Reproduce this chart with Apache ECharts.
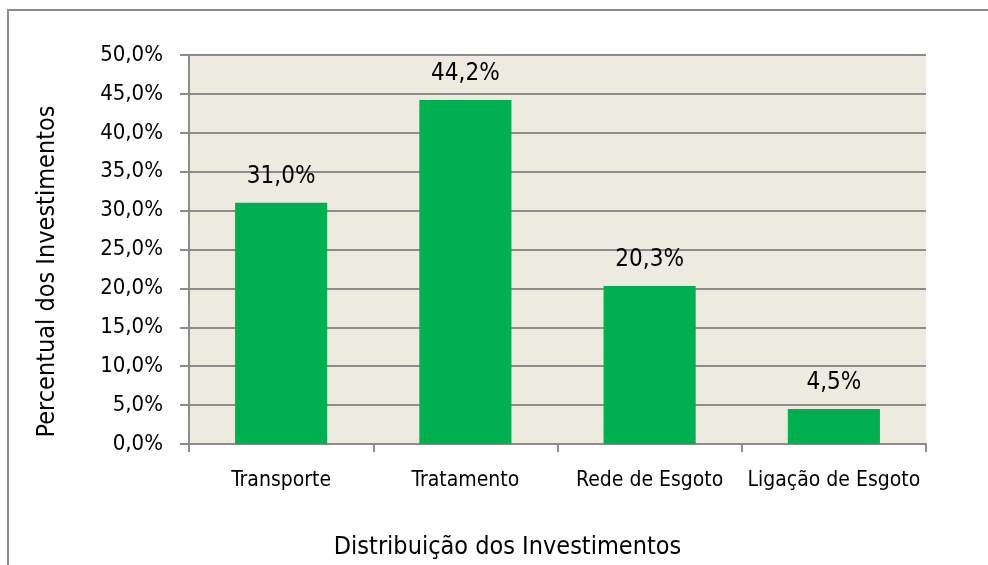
<!DOCTYPE html>
<html>
<head>
<meta charset="utf-8">
<script src="https://cdn.jsdelivr.net/npm/echarts@6/dist/echarts.min.js"></script>
<style>
  html, body { margin: 0; padding: 0; background: #fff; }
  #chart { width: 988px; height: 565px; }
</style>
</head>
<body>
<div id="chart"></div>
<script>
// dados do gráfico
const categorias = ['Transporte', 'Tratamento', 'Rede de Esgoto', 'Ligação de Esgoto']
const percentuais = [31.0, 44.2, 20.3, 4.5]

const fonte = "'Liberation Sans Narrow', 'DejaVu Sans Condensed', 'Roboto', sans-serif"
const cinza = '#8c8c8c'
const fmt = v => v.toFixed(1).replace('.', ',') + '%'

const chart = echarts.init(document.getElementById('chart'))
chart.setOption({
  animation: false,
  textStyle: { fontFamily: fonte, color: '#000' },
  // moldura externa
  graphic: [{
    type: 'rect',
    shape: { x: 8, y: 10, width: 1100, height: 700 },
    style: { fill: 'none', stroke: cinza, lineWidth: 2 },
    silent: true
  }],
  grid: {
    left: 189, right: 62, top: 55, bottom: 118,
    show: true, backgroundColor: '#edeae0', borderWidth: 0
  },
  xAxis: {
    type: 'category',
    data: categorias,
    name: 'Distribuição dos Investimentos',
    nameLocation: 'middle',
    nameGap: 91,
    nameTextStyle: { fontSize: 25, color: '#000', fontFamily: fonte, padding: [0, 100, 0, 0] },
    axisLine: { lineStyle: { color: cinza, width: 2 } },
    axisTick: { show: true, length: 8, lineStyle: { color: cinza, width: 2 } },
    axisLabel: { interval: 0, fontSize: 21, color: '#000', margin: 26, fontFamily: fonte }
  },
  yAxis: {
    type: 'value',
    min: 0, max: 50, interval: 5,
    name: 'Percentual dos Investimentos',
    nameLocation: 'middle',
    nameGap: 129,
    nameTextStyle: { fontSize: 25, color: '#000', fontFamily: fonte, padding: [0, 44, 0, 0] },
    axisLine: { show: true, lineStyle: { color: cinza, width: 2 } },
    axisTick: { show: true, length: 9, lineStyle: { color: cinza, width: 2 } },
    axisLabel: { fontSize: 22, color: '#000', margin: 26, fontFamily: fonte, formatter: fmt },
    splitLine: { lineStyle: { color: cinza, width: 2 } }
  },
  series: [{
    type: 'bar',
    data: percentuais,
    barWidth: '50%',
    itemStyle: { color: '#00b050' },
    label: {
      show: true,
      position: 'top',
      distance: 14,
      fontSize: 24,
      color: '#000',
      fontFamily: fonte,
      formatter: p => fmt(p.value)
    }
  }]
})
</script>
</body>
</html>
